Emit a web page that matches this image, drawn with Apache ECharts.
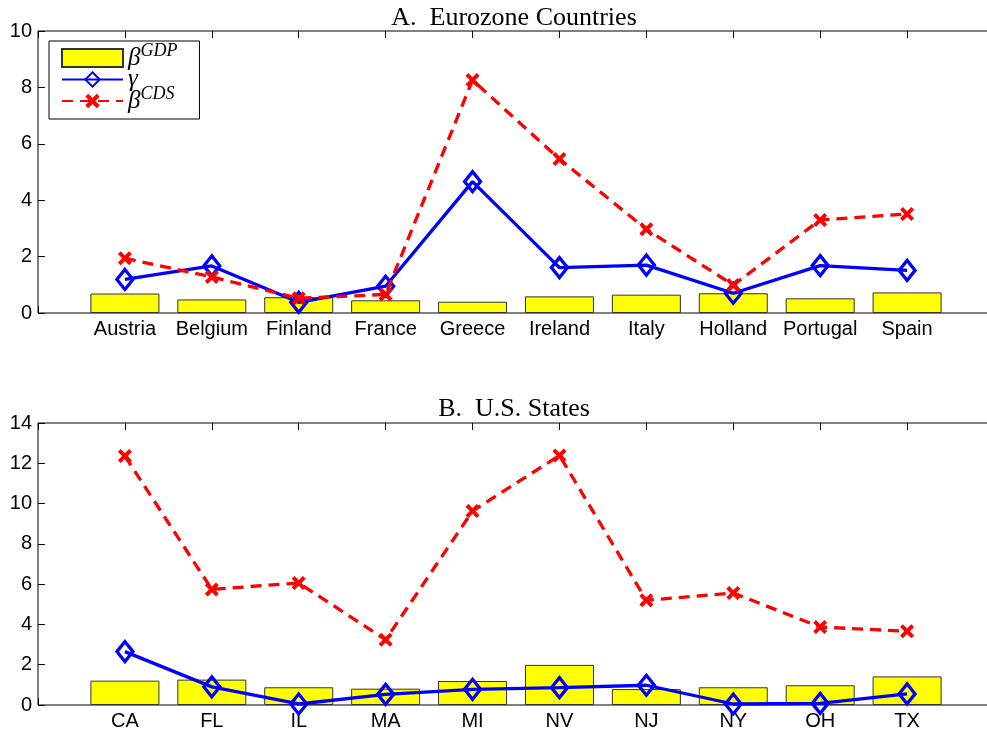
<!DOCTYPE html>
<html>
<head>
<meta charset="utf-8">
<script src="https://cdn.jsdelivr.net/npm/echarts@6/dist/echarts.min.js"></script>
<style>html,body{margin:0;padding:0;background:#fff;}#c{width:987px;height:734px;}</style>
</head>
<body>
<div id="c"></div>
<script>
// ---- Data ----
const euroCountries = ['Austria','Belgium','Finland','France','Greece','Ireland','Italy','Holland','Portugal','Spain'];
const euroBetaGDP = [0.69, 0.48, 0.56, 0.45, 0.40, 0.59, 0.65, 0.70, 0.52, 0.73];
const euroGamma   = [1.19, 1.67, 0.38, 0.95, 4.66, 1.61, 1.70, 0.70, 1.68, 1.51];
const euroBetaCDS = [1.94, 1.28, 0.52, 0.66, 8.26, 5.46, 2.97, 0.99, 3.30, 3.51];

const usStates = ['CA','FL','IL','MA','MI','NV','NJ','NY','OH','TX'];
const usBetaGDP = [1.21, 1.26, 0.88, 0.81, 1.19, 1.99, 0.79, 0.88, 0.98, 1.42];
const usGamma   = [2.65, 0.90, 0.05, 0.53, 0.78, 0.86, 0.98, 0.05, 0.08, 0.55];
const usBetaCDS = [12.36, 5.74, 6.06, 3.24, 9.63, 12.39, 5.20, 5.56, 3.87, 3.66];

const euroYTicks = [0, 2, 4, 6, 8, 10];
const usYTicks = [0, 2, 4, 6, 8, 10, 12, 14];

const seriesNames = ['βGDP', 'γ', 'βCDS'];
const legendLabels = {'βGDP': '{b|β}{s|GDP}', 'γ': '{b|γ}', 'βCDS': '{b|β}{s|CDS}'};

// ---- Chart ----
const chart = echarts.init(document.getElementById('c'), null, {renderer: 'canvas'});
const sans = 'Liberation Sans, Arial, sans-serif';
const serif = 'Liberation Serif, Times New Roman, serif';
const xMark = 'path://M2,0 L5,3 L8,0 L10,2 L7,5 L10,8 L8,10 L5,7 L2,10 L0,8 L3,5 L0,2 Z';
const tick = {show:true, inside:true, length:7, lineStyle:{color:'#000', width:1}};

function pts(arr){ return arr.map((v,i)=>[i+1, v]); }

function xAxes(gi, cats){
  return [
    {gridIndex: gi, type:'value', min:0, max:cats.length+1, interval:1, position:'bottom',
     axisLine:{show:false, onZero:false}, splitLine:{show:false}, axisTick: tick,
     axisLabel:{color:'#000', fontFamily:sans, fontSize:20, margin:6,
       formatter: v => (v>=1 && v<=cats.length) ? cats[v-1] : ''}},
    {gridIndex: gi, type:'value', min:0, max:cats.length+1, interval:1, position:'top',
     axisLine:{show:false, onZero:false}, splitLine:{show:false}, axisLabel:{show:false},
     axisTick: tick}
  ];
}
function yAxes(gi, ticks){
  const mx = ticks[ticks.length-1];
  const iv = ticks[1]-ticks[0];
  return [
    {gridIndex: gi, type:'value', min:ticks[0], max:mx, interval:iv, position:'left',
     axisLine:{show:false, onZero:false}, splitLine:{show:false}, axisTick: tick,
     axisLabel:{color:'#000', fontFamily:sans, fontSize:20, margin:6}},
    {gridIndex: gi, type:'value', min:ticks[0], max:mx, interval:iv, position:'right',
     axisLine:{show:false, onZero:false}, splitLine:{show:false}, axisLabel:{show:false},
     axisTick: tick}
  ];
}
function seriesFor(xi, yi, gdp, gam, cds){
  return [
    {name: seriesNames[0], type:'bar', xAxisIndex:xi, yAxisIndex:yi, data: pts(gdp), barWidth:69,
     itemStyle:{color:'#ffff00', borderColor:'#333', borderWidth:1}, z:2},
    {name: seriesNames[1], type:'line', xAxisIndex:xi, yAxisIndex:yi, data: pts(gam),
     symbol:'diamond', symbolSize:[16,20], showAllSymbol:true,
     lineStyle:{color:'#0000ff', width:3.3},
     itemStyle:{color:'rgba(255,255,255,0)', borderColor:'#0000ff', borderWidth:3.3}, z:3},
    {name: seriesNames[2], type:'line', xAxisIndex:xi, yAxisIndex:yi, data: pts(cds),
     symbol: xMark, symbolSize:14, showAllSymbol:true,
     lineStyle:{color:'#ff0000', width:3.3, type:[11,7]},
     itemStyle:{color:'#ff0000', borderWidth:0}, z:4}
  ];
}

const gridBase = {left:38, width:956, height:282, show:true, borderColor:'#000', borderWidth:1,
  backgroundColor:'#fff', containLabel:false, outerBoundsMode:'none'};

const option = {
  animation: false,
  backgroundColor: '#fff',
  title: [
    {text:'A.  Eurozone Countries', left:509, top:0, textAlign:'center',
     textStyle:{fontFamily:serif, fontWeight:'normal', fontSize:26, color:'#000'}},
    {text:'B.  U.S. States', left:509, top:391, textAlign:'center',
     textStyle:{fontFamily:serif, fontWeight:'normal', fontSize:26, color:'#000'}}
  ],
  grid: [
    Object.assign({}, gridBase, {top:31}),
    Object.assign({}, gridBase, {top:423})
  ],
  xAxis: [...xAxes(0, euroCountries), ...xAxes(1, usStates)],
  yAxis: [...yAxes(0, euroYTicks), ...yAxes(1, usYTicks)],
  legend: {
    data: [{name: seriesNames[0], icon:'rect'}, {name: seriesNames[1]}, {name: seriesNames[2]}],
    orient:'vertical', left:49, top:41,
    backgroundColor:'#fff', borderColor:'#000', borderWidth:1,
    padding:[1,22,2,12], itemGap:-7, itemWidth:61, itemHeight:18,
    selectedMode:false,
    formatter: name => legendLabels[name],
    textStyle:{
      color:'#000', fontFamily:serif,
      rich:{
        b:{fontFamily:serif, fontStyle:'italic', fontSize:25, lineHeight:20, color:'#000'},
        s:{fontFamily:serif, fontStyle:'italic', fontSize:18, lineHeight:10, padding:[0,0,14,0], color:'#000'}
      }
    }
  },
  series: [
    ...seriesFor(0, 0, euroBetaGDP, euroGamma, euroBetaCDS),
    ...seriesFor(2, 2, usBetaGDP, usGamma, usBetaCDS)
  ]
};
chart.setOption(option);
</script>
</body>
</html>
